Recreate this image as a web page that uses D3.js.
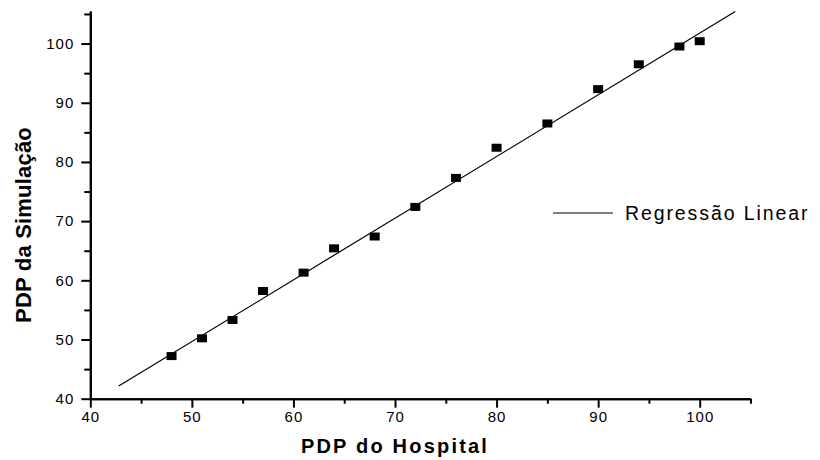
<!DOCTYPE html>
<html>
<head>
<meta charset="utf-8">
<script src="https://cdn.jsdelivr.net/npm/d3@7"></script>
<style>
  body { margin: 0; background: #fff; }
  svg { font-family: "Liberation Sans", Arial, sans-serif; }
</style>
</head>
<body>
<div id="chart"></div>
<script>
// PDP values
const hospital  = [48, 51, 54, 57, 61, 64, 68, 72, 76, 80, 85, 90, 94, 98, 100];
const simulacao = [47.2, 50.2, 53.3, 58.2, 61.3, 65.4, 67.4, 72.4, 77.3, 82.4, 86.5, 92.3, 96.5, 99.5, 100.4];

// regression line ends
const fitX = [42.8, 103.5];
const fitY = [42.15, 105.4];

const majorTicks = [40, 50, 60, 70, 80, 90, 100];
const minorTicks = [45, 55, 65, 75, 85, 95, 105];

const width = 820;
const height = 460;

const svg = d3.select("#chart")
    .append("svg")
    .attr("width", width)
    .attr("height", height)

const x = d3.scaleLinear().domain([40, 105]).range([90.3, 750.5]);
const y = d3.scaleLinear().domain([40, 105.5]).range([398.7, 11]);

// x axis
const gx = svg.append("g").attr("transform", "translate(0," + y(40) + ")");
gx.call(d3.axisBottom(x).tickValues(majorTicks).tickSize(9).tickSizeOuter(0).tickPadding(4));
gx.append("g").call(d3.axisBottom(x).tickValues(minorTicks).tickSize(5).tickSizeOuter(0).tickFormat(""));

// y axis
const gy = svg.append("g").attr("transform", "translate(" + x(40) + ",0)");
gy.call(d3.axisLeft(y).tickValues(majorTicks).tickSize(9).tickSizeOuter(0).tickPadding(7));
gy.append("g").call(d3.axisLeft(y).tickValues(minorTicks).tickSize(6).tickSizeOuter(0).tickFormat(""));

svg.selectAll(".domain").attr("stroke", "#000").attr("stroke-width", 2);
svg.selectAll(".tick line").attr("stroke", "#000").attr("stroke-width", 2);
svg.selectAll(".tick text")
    .attr("fill", "#000")
    .style("font-size", "15px")
    .style("letter-spacing", "1px");

// regression line
svg.append("line")
    .attr("x1", x(fitX[0]))
    .attr("y1", y(fitY[0]))
    .attr("x2", x(fitX[1]))
    .attr("y2", y(fitY[1]))
    .attr("stroke", "#000")
    .attr("stroke-width", 1.2)

// points
svg.selectAll("rect.pt")
    .data(hospital)
    .enter()
    .append("rect")
    .attr("class", "pt")
    .attr("x", (d) => x(d) - 5)
    .attr("y", (d, i) => y(simulacao[i]) - 4)
    .attr("width", 10)
    .attr("height", 8)
    .attr("fill", "#000")

// legend
svg.append("line")
    .attr("x1", 553).attr("x2", 613)
    .attr("y1", 213).attr("y2", 213)
    .attr("stroke", "#000")
    .attr("stroke-width", 1.2)

svg.append("text")
    .attr("x", 625)
    .attr("y", 220)
    .text("Regressão Linear")
    .style("font-size", "19.5px")
    .style("letter-spacing", "1.9px")

// axis titles
svg.append("text")
    .attr("x", 395)
    .attr("y", 453)
    .attr("text-anchor", "middle")
    .text("PDP do Hospital")
    .style("font-size", "20px")
    .style("font-weight", "bold")
    .style("letter-spacing", "2.2px")

svg.append("text")
    .attr("transform", "translate(31,225) rotate(-90)")
    .attr("text-anchor", "middle")
    .text("PDP da Simulação")
    .style("font-size", "22px")
    .style("font-weight", "bold")
    .style("letter-spacing", "0.2px")
</script>
</body>
</html>
